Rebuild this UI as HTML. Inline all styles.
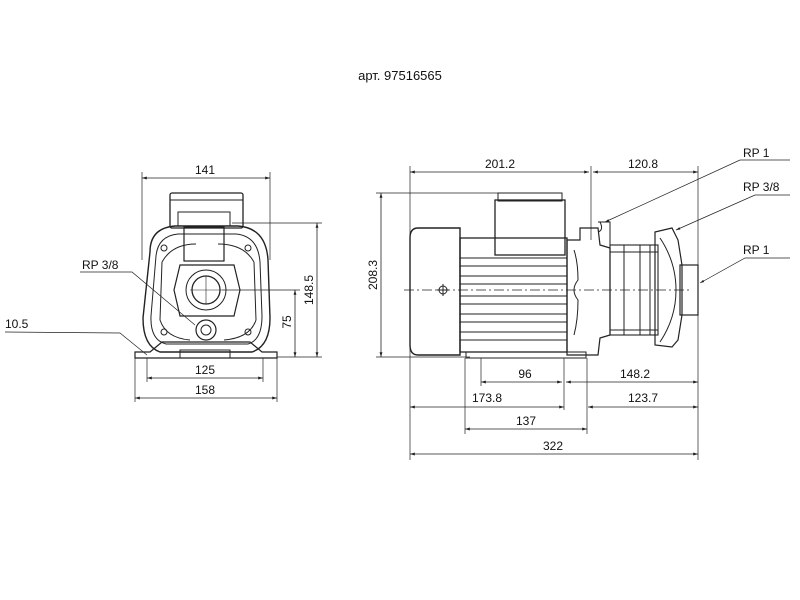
<!DOCTYPE html>
<html><head><meta charset="utf-8"><style>
html,body{margin:0;padding:0;background:#fff;}
svg{display:block;}
text{font-family:"Liberation Sans",sans-serif;font-size:12px;fill:#111;}
</style></head><body>
<svg width="800" height="600" viewBox="0 0 800 600" xmlns="http://www.w3.org/2000/svg">
<defs>
<marker id="a" viewBox="0 0 10 10" refX="10" refY="5" markerWidth="6" markerHeight="6" orient="auto-start-reverse"><path d="M0,2 L10,5 L0,8z" fill="#222"/></marker>
</defs>
<text x="400" y="80" text-anchor="middle" style="font-size:13px">арт. 97516565</text>

<g stroke="#222" fill="none" stroke-width="1">
<!-- LEFT VIEW -->
<line x1="142" y1="172" x2="142" y2="260" stroke-width="0.7"/>
<line x1="270" y1="172" x2="270" y2="260" stroke-width="0.7"/>
<line x1="142" y1="178" x2="270" y2="178" marker-start="url(#a)" marker-end="url(#a)" stroke-width="0.8"/>
<rect x="170" y="193" width="73" height="35" rx="2" stroke-width="1.3"/>
<line x1="170" y1="200" x2="243" y2="200"/>
<path d="M150,252 Q150,228 175,226 L238,226 Q266,228 268,260 L270,318 Q270,346 252,352 L160,352 Q143,346 143,318 Z" stroke-width="1.4"/>
<path d="M156,256 Q158,236 178,234 L236,234 Q258,236 260,262 L262,316 Q262,340 248,344 L166,344 Q150,340 151,316 Z"/>
<path d="M162,262 Q172,244 196,244 M218,244 Q244,244 254,262 M162,262 L160,320 Q166,338 190,340 M254,262 L256,320 Q250,338 224,340"/>
<rect x="184" y="227" width="40" height="34" stroke-width="1.2"/>
<rect x="178" y="212" width="52" height="14"/>
<path d="M180,265 L234,265 L240,290 L234,316 L180,316 L174,290 Z" stroke-width="1.2"/>
<circle cx="206" cy="290" r="20"/>
<circle cx="206" cy="290" r="14" stroke-width="1.3"/>
<line x1="190" y1="290" x2="222" y2="290" stroke-width="0.6"/><line x1="206" y1="276" x2="206" y2="304" stroke-width="0.6"/>
<circle cx="206" cy="330" r="10" stroke-width="1.2"/><circle cx="206" cy="330" r="5"/>
<circle cx="164" cy="248" r="3"/><circle cx="248" cy="248" r="3"/><circle cx="164" cy="332" r="3"/><circle cx="248" cy="332" r="3"/>
<path d="M135,358 L135,352 L150,352 L162,342 L250,342 L262,352 L277,352 L277,358 Z" stroke-width="1.2"/>
<rect x="180" y="350" width="50" height="8"/>
<line x1="232" y1="223" x2="322" y2="223" stroke-width="0.7"/>
<line x1="222" y1="290" x2="300" y2="290" stroke-width="0.7"/>
<line x1="277" y1="357" x2="322" y2="357" stroke-width="0.7"/>
<line x1="317" y1="223" x2="317" y2="357" marker-start="url(#a)" marker-end="url(#a)" stroke-width="0.8"/>
<line x1="295" y1="290" x2="295" y2="357" marker-start="url(#a)" marker-end="url(#a)" stroke-width="0.8"/>
<line x1="147" y1="358" x2="147" y2="382" stroke-width="0.7"/><line x1="263" y1="358" x2="263" y2="382" stroke-width="0.7"/>
<line x1="135" y1="358" x2="135" y2="402" stroke-width="0.7"/><line x1="277" y1="358" x2="277" y2="402" stroke-width="0.7"/>
<line x1="147" y1="378" x2="263" y2="378" marker-start="url(#a)" marker-end="url(#a)" stroke-width="0.8"/>
<line x1="135" y1="398" x2="277" y2="398" marker-start="url(#a)" marker-end="url(#a)" stroke-width="0.8"/>
<polyline points="80,272 132,272 195,325" stroke-width="0.7"/>
<polyline points="5,332 120,333 147,355" stroke-width="0.7"/>

<!-- RIGHT VIEW -->
<line x1="410" y1="166" x2="410" y2="460" stroke-width="0.7"/>
<line x1="591" y1="166" x2="591" y2="240" stroke-width="0.7"/>
<line x1="698" y1="166" x2="698" y2="460" stroke-width="0.7"/>
<line x1="410" y1="172" x2="589" y2="172" marker-start="url(#a)" marker-end="url(#a)" stroke-width="0.8"/>
<line x1="593" y1="172" x2="698" y2="172" marker-start="url(#a)" marker-end="url(#a)" stroke-width="0.8"/>
<line x1="376" y1="193" x2="500" y2="193" stroke-width="0.7"/>
<line x1="376" y1="357" x2="470" y2="357" stroke-width="0.7"/>
<line x1="381" y1="193" x2="381" y2="357" marker-start="url(#a)" marker-end="url(#a)" stroke-width="0.8"/>
<rect x="495" y="200" width="70" height="55" stroke-width="1.3"/>
<rect x="498" y="193" width="64" height="8"/>
<path d="M418,228 L460,228 L460,355 L418,355 Q410,355 410,345 L410,238 Q410,228 418,228 Z" stroke-width="1.4"/>
<rect x="460" y="238" width="107" height="114" stroke-width="1.3"/>
<g stroke-width="1.1">
<line x1="460" y1="258" x2="567" y2="258"/><line x1="460" y1="266" x2="567" y2="266"/>
<line x1="460" y1="276" x2="567" y2="276"/><line x1="460" y1="284" x2="567" y2="284"/>
<line x1="460" y1="296" x2="567" y2="296"/><line x1="460" y1="304" x2="567" y2="304"/>
<line x1="460" y1="314" x2="567" y2="314"/><line x1="460" y1="322" x2="567" y2="322"/>
<line x1="460" y1="332" x2="567" y2="332"/><line x1="460" y1="340" x2="567" y2="340"/>
</g>
<rect x="466" y="352" width="120" height="6"/>
<path d="M567,240 L580,240 L580,228 L598,228 L600,245 L610,248 L610,335 L600,338 L598,355 L567,355 Z" stroke-width="1.2"/>
<path d="M574,250 Q578,262 578,280 Q570,290 578,300 Q578,320 574,335" />
<path d="M598,222 L610,222 L610,245 M600,222 Q604,230 598,232"/>
<rect x="610" y="245" width="48" height="90" stroke-width="1.1"/>
<line x1="624" y1="245" x2="624" y2="335"/><line x1="640" y1="245" x2="640" y2="335"/><line x1="650" y1="245" x2="650" y2="335"/>
<line x1="610" y1="252" x2="658" y2="252"/><line x1="610" y1="330" x2="658" y2="330"/>
<path d="M655,232 L672,228 L678,240 L682,265 L682,315 L678,340 L672,347 L655,345 Z" stroke-width="1.2"/>
<path d="M660,238 Q676,262 676,290 Q676,318 660,342"/>
<rect x="680" y="265" width="18" height="50" stroke-width="1.2"/>
<line x1="404" y1="290" x2="690" y2="290" stroke-dasharray="10,3,2,3" stroke-width="0.7"/>
<circle cx="443" cy="290" r="4"/><line x1="437" y1="290" x2="449" y2="290"/><line x1="443" y1="284" x2="443" y2="296"/>
<line x1="465" y1="358" x2="465" y2="434" stroke-width="0.7"/>
<line x1="481" y1="358" x2="481" y2="386" stroke-width="0.7"/>
<line x1="564" y1="358" x2="564" y2="410" stroke-width="0.7"/>
<line x1="587" y1="358" x2="587" y2="434" stroke-width="0.7"/>
<line x1="481" y1="382" x2="562" y2="382" marker-start="url(#a)" marker-end="url(#a)" stroke-width="0.8"/>
<line x1="566" y1="382" x2="698" y2="382" marker-start="url(#a)" marker-end="url(#a)" stroke-width="0.8"/>
<line x1="410" y1="407" x2="564" y2="407" marker-start="url(#a)" marker-end="url(#a)" stroke-width="0.8"/>
<line x1="588" y1="407" x2="698" y2="407" marker-start="url(#a)" marker-end="url(#a)" stroke-width="0.8"/>
<line x1="465" y1="429" x2="587" y2="429" marker-start="url(#a)" marker-end="url(#a)" stroke-width="0.8"/>
<line x1="410" y1="454" x2="698" y2="454" marker-start="url(#a)" marker-end="url(#a)" stroke-width="0.8"/>
<polyline points="790,160 740,160 605,222" stroke-width="0.7" marker-end="url(#a)"/>
<polyline points="790,195 755,195 676,230" stroke-width="0.7" marker-end="url(#a)"/>
<polyline points="790,258 745,258 700,283" stroke-width="0.7" marker-end="url(#a)"/>
</g>

<text x="205" y="174" text-anchor="middle">141</text>
<text x="82" y="269">RP 3/8</text>
<text x="5" y="328">10.5</text>
<text x="205" y="374" text-anchor="middle">125</text>
<text x="205" y="394" text-anchor="middle">158</text>
<text transform="translate(313,290) rotate(-90)" text-anchor="middle">148.5</text>
<text transform="translate(291,322) rotate(-90)" text-anchor="middle">75</text>
<text transform="translate(377,275) rotate(-90)" text-anchor="middle">208.3</text>
<text x="500" y="168" text-anchor="middle">201.2</text>
<text x="643" y="168" text-anchor="middle">120.8</text>
<text x="743" y="157">RP 1</text>
<text x="743" y="191">RP 3/8</text>
<text x="743" y="254">RP 1</text>
<text x="525" y="378" text-anchor="middle">96</text>
<text x="635" y="378" text-anchor="middle">148.2</text>
<text x="487" y="402" text-anchor="middle">173.8</text>
<text x="643" y="402" text-anchor="middle">123.7</text>
<text x="526" y="425" text-anchor="middle">137</text>
<text x="553" y="450" text-anchor="middle">322</text>
</svg>
</body></html>
